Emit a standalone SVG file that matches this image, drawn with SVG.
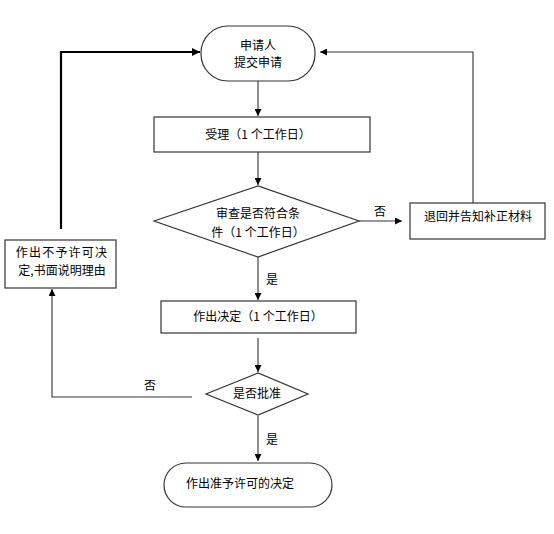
<svg xmlns="http://www.w3.org/2000/svg" width="554" height="534" viewBox="0 0 554 534">
<defs>
<marker id="ah" viewBox="0 0 10 10" refX="10" refY="5" markerWidth="7" markerHeight="7" markerUnits="userSpaceOnUse" orient="auto"><path d="M0,0 L10,5 L0,10 z" fill="#000"/></marker>
<marker id="ah2" viewBox="0 0 10 10" refX="10" refY="5" markerWidth="8" markerHeight="8" markerUnits="userSpaceOnUse" orient="auto"><path d="M0,0 L10,5 L0,10 z" fill="#000"/></marker>
</defs>
<style>
.s{fill:#fff;stroke:#333;stroke-width:1.2}
.t{font-family:"Noto Sans CJK SC","Noto Sans CJK JP",sans-serif;font-size:12px;fill:#000;text-anchor:middle}
.c{fill:none;stroke:#333;stroke-width:1.1}
.k{fill:none;stroke:#000;stroke-width:2.2}
</style>
<rect width="554" height="534" fill="#fff"/>
<g id="connectors">
<path class="c" d="M258,81 V116" marker-end="url(#ah)"/>
<path class="c" d="M258,152 V185" marker-end="url(#ah)"/>
<path class="c" d="M359,221 H402" marker-end="url(#ah)"/>
<path class="c" d="M473,203 V52 H320" marker-end="url(#ah)"/>
<path class="c" d="M258,257 V300" marker-end="url(#ah)"/>
<path class="k" d="M61,229 V52 H200" marker-end="url(#ah2)"/>
<path class="c" d="M258,338 V372" marker-end="url(#ah)"/>
<path class="c" d="M192,397 H52 V289" marker-end="url(#ah)"/>
<path class="c" d="M258,416 V461" marker-end="url(#ah)"/>
<text class="t" x="380" y="216">否</text>
<text class="t" x="272" y="284">是</text>
<text class="t" x="150" y="390">否</text>
<text class="t" x="272" y="444">是</text>
</g>
<g id="start">
<rect class="s" x="201" y="26" width="114" height="55" rx="27" ry="27"/>
<text class="t" x="258" y="50">申请人</text>
<text class="t" x="258" y="67">提交申请</text>
</g>
<g id="accept">
<rect class="s" x="154" y="117" width="216" height="35"/>
<text class="t" x="258" y="139">受理（1 个工作日）</text>
</g>
<g id="review">
<polygon class="s" points="154,221 258,186 359,221 258,257"/>
<text class="t" x="258" y="218">审查是否符合条</text>
<text class="t" x="258" y="237">件（1 个工作日）</text>
</g>
<g id="return">
<rect class="s" x="410" y="203" width="135" height="36"/>
<text class="t" x="478" y="221">退回并告知补正材料</text>
</g>
<g id="reject">
<rect class="s" x="5" y="240" width="111" height="48"/>
<text class="t" x="62" y="257" letter-spacing="1.2">作出不予许可决</text>
<text class="t" x="62" y="275">定,书面说明理由</text>
</g>
<g id="decide">
<rect class="s" x="161" y="301" width="195" height="32"/>
<text class="t" x="258" y="321">作出决定（1 个工作日）</text>
</g>
<g id="approve">
<polygon class="s" points="206,394 258,373 308,394 258,415"/>
<text class="t" x="257" y="398">是否批准</text>
</g>
<g id="end">
<rect class="s" x="164" y="463" width="168" height="44" rx="22" ry="22"/>
<text class="t" x="240" y="488">作出准予许可的决定</text>
</g>
</svg>
